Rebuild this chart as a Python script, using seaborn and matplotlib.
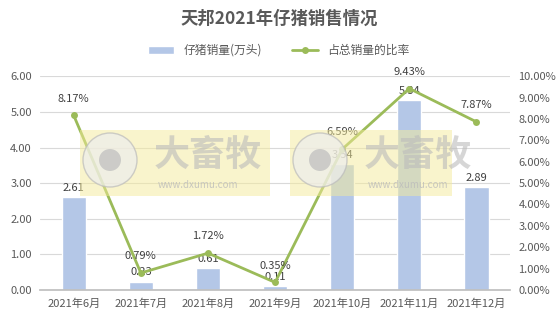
import matplotlib
matplotlib.use("Agg")
import matplotlib.pyplot as plt
import seaborn as sns
import pandas as pd
from matplotlib.ticker import FuncFormatter
from matplotlib.patches import Rectangle, Ellipse

months = ["2021年6月", "2021年7月", "2021年8月", "2021年9月", "2021年10月", "2021年11月", "2021年12月"]
sales = [2.61, 0.23, 0.61, 0.11, 3.54, 5.34, 2.89]
ratio = [8.17, 0.79, 1.72, 0.35, 6.59, 9.43, 7.87]

df = pd.DataFrame({"month": months, "sales": sales, "ratio": ratio})

sns.set_theme(style="white")
plt.rcParams["font.family"] = ["Noto Sans CJK SC", "DejaVu Sans"]

txt = "#595959"
bar_c = "#B4C7E7"
line_c = "#9BBB59"

fig = plt.figure(figsize=(5.58, 3.21), dpi=100)
ax = fig.add_axes([0.072, 0.097, 0.842, 0.665])

sns.barplot(data=df, x="month", y="sales", color=bar_c, width=0.36, ax=ax,
            saturation=1, label="仔猪销量(万头)", zorder=2)
ax.set_ylim(0, 6)
ax.set_yticks(range(7))
ax.yaxis.set_major_formatter(FuncFormatter(lambda v, p: f"{v:.2f}"))
ax.grid(axis="y", color="#D9D9D9", lw=0.8, zorder=0)
ax.set_axisbelow(True)
ax.set_xlabel("")
ax.set_ylabel("")
for s in ["top", "right", "left"]:
    ax.spines[s].set_visible(False)
ax.spines["bottom"].set_color("#BFBFBF")
ax.tick_params(axis="both", colors=txt, labelsize=8, length=0, pad=6)
ax.set_xlim(-0.5, len(months) - 0.5)
for i, v in enumerate(sales):
    ax.text(i, v + 0.12, f"{v:.2f}", ha="center", va="bottom", fontsize=8, color="#404040", zorder=6)

ax2 = ax.twinx()
sns.lineplot(x=list(range(len(months))), y=ratio, ax=ax2, color=line_c, lw=2,
             marker="o", markersize=5, markeredgewidth=0, label="占总销量的比率", zorder=5)
ax2.set_ylim(0, 10)
ax2.set_yticks(range(11))
ax2.yaxis.set_major_formatter(FuncFormatter(lambda v, p: f"{v:.2f}%"))
ax2.tick_params(axis="y", colors=txt, labelsize=8, length=0, pad=6)
for s in ["top", "right", "left", "bottom"]:
    ax2.spines[s].set_visible(False)
ax2.grid(False)
for i, v in enumerate(ratio):
    ax2.text(i, v + 0.55, f"{v:.2f}%", ha="center", va="bottom", fontsize=8, color="#404040", zorder=6)
ax2.get_legend().remove()

# watermark boxes
W, H = 558, 321
for x0, w in [(80, 190), (290, 162)]:
    fig.patches.append(Rectangle((x0 / W, 1 - 196 / H), w / W, 66 / H, transform=fig.transFigure,
                                 facecolor="#F5EB9A", alpha=0.5, edgecolor="none", zorder=4))
    cx = x0 + 30
    fig.patches.append(Ellipse((cx / W, 1 - 160 / H), 54 / W, 54 / H, transform=fig.transFigure,
                               facecolor="#EDEDED", edgecolor="#BBBBBB", lw=1, alpha=0.7, zorder=4))
    fig.patches.append(Ellipse((cx / W, 1 - 160 / H), 22 / W, 22 / H, transform=fig.transFigure,
                               facecolor="#BDBDBD", edgecolor="none", alpha=0.7, zorder=4))
    fig.text((x0 + 128) / W, 1 - 155 / H, "大畜牧", fontsize=26, fontweight="bold", color="#BBBBBB",
             alpha=0.6, ha="center", va="center", zorder=4)
    fig.text((x0 + 118) / W, 1 - 185 / H, "www.dxumu.com", fontsize=7, color="#BBBBBB",
             alpha=0.8, ha="center", va="center", zorder=4)

h1, l1 = ax.get_legend_handles_labels()
h2, l2 = ax2.get_legend_handles_labels()
if ax.get_legend():
    ax.get_legend().remove()
fig.legend(h1 + h2, l1 + l2, loc="center", bbox_to_anchor=(0.5, 0.843), ncol=2,
           frameon=False, fontsize=8.5, labelcolor=txt, handlelength=2.2, columnspacing=2.5)

fig.text(0.5, 0.94, "天邦2021年仔猪销售情况", ha="center", va="center",
         fontsize=12.5, fontweight="bold", color=txt)

fig.savefig("out.png", dpi=100)
